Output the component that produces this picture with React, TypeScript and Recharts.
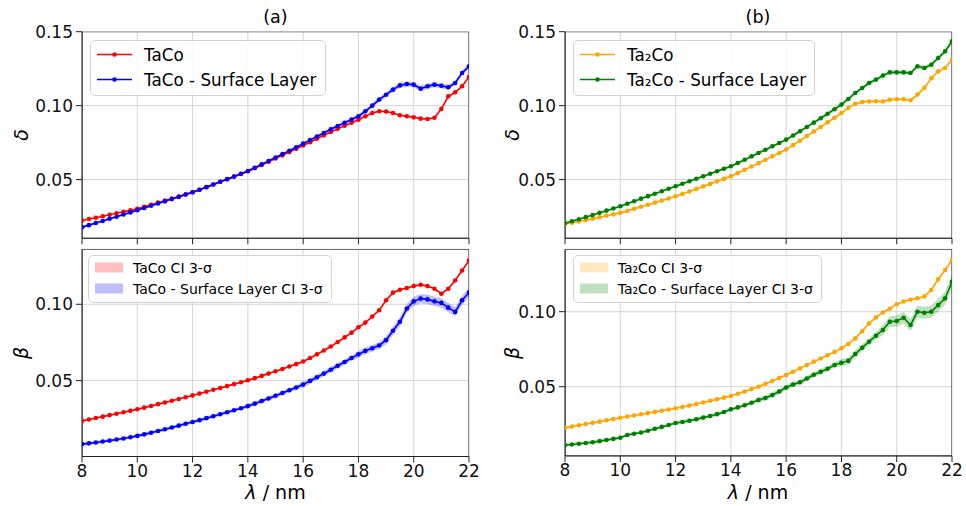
import React from "react";
import {
  ComposedChart,
  Line,
  Area,
  XAxis,
  YAxis,
  CartesianGrid,
  ReferenceArea,
  Legend,
} from "recharts";

// wavelength grid (nm)
const wavelength = [
  8, 8.25, 8.5, 8.75, 9, 9.25, 9.5, 9.75, 10, 10.25, 10.5, 10.75, 11, 11.25, 11.5, 11.75,
  12, 12.25, 12.5, 12.75, 13, 13.25, 13.5, 13.75, 14, 14.25, 14.5, 14.75, 15, 15.25, 15.5, 15.75,
  16, 16.25, 16.5, 16.75, 17, 17.25, 17.5, 17.75, 18, 18.25, 18.5, 18.75, 19, 19.25, 19.5, 19.75,
  20, 20.25, 20.5, 20.75, 21, 21.25, 21.5, 21.75, 22,
];
const xTicks = [8, 10, 12, 14, 16, 18, 20, 22];
const deltaTicks = [0.05, 0.1, 0.15];
const betaTicks = [0.05, 0.1];

// (a) TaCo
const deltaTaCo = [
  0.0223, 0.0233, 0.0242, 0.0252, 0.0262, 0.0272, 0.0282, 0.0292,
  0.0302, 0.0316, 0.033, 0.0344, 0.0358, 0.0372, 0.0386, 0.04,
  0.0414, 0.0431, 0.0449, 0.0467, 0.0485, 0.0502, 0.052, 0.0538,
  0.0556, 0.0577, 0.0599, 0.0621, 0.0643, 0.0664, 0.0686, 0.0708,
  0.073, 0.0753, 0.0776, 0.0799, 0.0822, 0.0843, 0.0864, 0.0885,
  0.0905, 0.0928, 0.095, 0.0962, 0.096, 0.095, 0.0935, 0.0928,
  0.0921, 0.0912, 0.091, 0.0918, 0.0978, 0.1063, 0.109, 0.1131,
  0.1194,
];
const deltaTaCoSurf = [
  0.0178, 0.0192, 0.0206, 0.022, 0.0235, 0.0249, 0.0264, 0.0278,
  0.0293, 0.0308, 0.0323, 0.0338, 0.0353, 0.0368, 0.0383, 0.0399,
  0.0414, 0.0431, 0.0449, 0.0467, 0.0485, 0.0503, 0.0521, 0.0539,
  0.0558, 0.058, 0.0603, 0.0626, 0.0649, 0.0672, 0.0695, 0.0719,
  0.0743, 0.0767, 0.0791, 0.0815, 0.084, 0.0862, 0.0884, 0.0906,
  0.0928, 0.0962, 0.1, 0.1041, 0.1074, 0.1108, 0.1137, 0.1146,
  0.1142, 0.1115, 0.1131, 0.1142, 0.1135, 0.1124, 0.1153, 0.1221,
  0.1266,
];
const betaTaCo = [
  0.0236, 0.0245, 0.0255, 0.0264, 0.0274, 0.0283, 0.0293, 0.0302,
  0.0312, 0.0323, 0.0334, 0.0346, 0.0357, 0.0368, 0.038, 0.0391,
  0.0403, 0.0415, 0.0427, 0.044, 0.0452, 0.0464, 0.0477, 0.0489,
  0.0502, 0.0516, 0.0531, 0.0546, 0.0561, 0.0576, 0.0592, 0.0608,
  0.0625, 0.0648, 0.0672, 0.0697, 0.0723, 0.0753, 0.0783, 0.0814,
  0.0849, 0.088, 0.092, 0.0961, 0.1026, 0.1076, 0.1095, 0.1106,
  0.1119, 0.1128, 0.1119, 0.1102, 0.1069, 0.1102, 0.1156, 0.1221,
  0.1286,
];
const betaTaCoSurf = [
  0.0084, 0.0089, 0.0095, 0.0101, 0.0107, 0.0114, 0.0121, 0.0129,
  0.0138, 0.0148, 0.0159, 0.017, 0.0181, 0.0193, 0.0205, 0.0217,
  0.0229, 0.0241, 0.0254, 0.0267, 0.028, 0.0293, 0.0306, 0.0319,
  0.0333, 0.0349, 0.0366, 0.0383, 0.0401, 0.0419, 0.0437, 0.0455,
  0.0474, 0.0498, 0.0522, 0.0546, 0.0571, 0.0597, 0.0622, 0.0648,
  0.0672, 0.0695, 0.0712, 0.073, 0.0765, 0.0827, 0.0885, 0.0972,
  0.1019, 0.1037, 0.1032, 0.1019, 0.1009, 0.0978, 0.095, 0.1026,
  0.1076,
];

// (b) Ta2Co
const deltaTa2Co = [
  0.02, 0.0208, 0.0217, 0.0226, 0.0236, 0.0245, 0.0255, 0.0265,
  0.0275, 0.0288, 0.0302, 0.0316, 0.033, 0.0344, 0.0358, 0.0372,
  0.0387, 0.0403, 0.042, 0.0437, 0.0454, 0.0471, 0.0488, 0.0505,
  0.0522, 0.0544, 0.0566, 0.0588, 0.0611, 0.0634, 0.0657, 0.068,
  0.0703, 0.0733, 0.0763, 0.0794, 0.0825, 0.0856, 0.0887, 0.0918,
  0.095, 0.0985, 0.1012, 0.1025, 0.1028, 0.103, 0.1028, 0.104,
  0.1043, 0.1043, 0.1036, 0.1075, 0.112, 0.1185, 0.1232, 0.1255,
  0.1311,
];
const deltaTa2CoSurf = [
  0.0205, 0.0218, 0.0232, 0.0246, 0.026, 0.0275, 0.029, 0.0305,
  0.032, 0.0337, 0.0354, 0.0371, 0.0388, 0.0404, 0.0421, 0.0438,
  0.0455, 0.0472, 0.0489, 0.0506, 0.0523, 0.0539, 0.0556, 0.0573,
  0.059, 0.0612, 0.0634, 0.0657, 0.068, 0.0702, 0.0725, 0.0747,
  0.077, 0.0798, 0.0827, 0.0856, 0.0885, 0.0915, 0.0945, 0.0976,
  0.1007, 0.1045, 0.1086, 0.1119, 0.1153, 0.1176, 0.1203, 0.1225,
  0.1225, 0.1225, 0.1221, 0.1266, 0.1255, 0.1277, 0.1322, 0.1367,
  0.1435,
];
const betaTa2Co = [
  0.0227, 0.0235, 0.0243, 0.0251, 0.0259, 0.0267, 0.0276, 0.0284,
  0.0293, 0.0301, 0.0308, 0.0316, 0.0324, 0.0332, 0.034, 0.0348,
  0.0356, 0.0365, 0.0375, 0.0385, 0.0395, 0.0406, 0.0416, 0.0427,
  0.0438, 0.0453, 0.0468, 0.0484, 0.05, 0.0519, 0.0538, 0.0558,
  0.0578, 0.06, 0.0622, 0.0644, 0.0667, 0.0688, 0.071, 0.0732,
  0.0756, 0.0785, 0.0822, 0.087, 0.0922, 0.0962, 0.0995, 0.102,
  0.105, 0.1068, 0.108, 0.109, 0.1102, 0.1145, 0.1216, 0.1278,
  0.1345,
];
const betaTa2CoSurf = [
  0.0111, 0.0115, 0.012, 0.0125, 0.013, 0.0137, 0.0145, 0.0152,
  0.016, 0.0178, 0.0186, 0.0195, 0.0206, 0.0219, 0.0232, 0.0245,
  0.0258, 0.0265, 0.0273, 0.0283, 0.0294, 0.0305, 0.0317, 0.0331,
  0.0349, 0.0362, 0.0376, 0.0393, 0.0411, 0.0425, 0.0445, 0.0468,
  0.0495, 0.0515, 0.053, 0.0555, 0.058, 0.06, 0.062, 0.0645,
  0.066, 0.0672, 0.0718, 0.076, 0.08, 0.084, 0.0878, 0.0933,
  0.0938, 0.096, 0.0911, 0.1, 0.0993, 0.1, 0.1044, 0.1089,
  0.12,
];

// 3-sigma half widths, in units of 1e-3
const ciDeltaTaCo = [
  0.3, 0.3, 0.3, 0.3, 0.3, 0.3, 0.3, 0.3, 0.3, 0.3, 0.3, 0.3, 0.3, 0.3, 0.3, 0.3,
  0.3, 0.3, 0.3, 0.3, 0.3, 0.3, 0.3, 0.3, 0.4, 0.4, 0.4, 0.4, 0.4, 0.4, 0.4, 0.4,
  0.4, 0.4, 0.4, 0.4, 0.5, 0.5, 0.5, 0.5, 0.5, 0.5, 0.6, 0.6, 0.6, 0.6, 0.6, 0.6,
  0.6, 0.6, 0.6, 0.6, 0.7, 0.7, 0.7, 0.7, 0.7,
];
const ciDeltaTaCoSurf = [
  0.8, 0.8, 0.8, 0.8, 0.8, 0.8, 0.8, 0.8, 0.8, 0.8, 0.8, 0.8, 0.8, 0.8, 0.8, 0.8,
  0.9, 0.9, 0.9, 0.9, 0.9, 0.9, 0.9, 0.9, 1.0, 1.0, 1.0, 1.0, 1.0, 1.0, 1.0, 1.0,
  1.1, 1.1, 1.1, 1.1, 1.2, 1.2, 1.2, 1.2, 1.3, 1.4, 1.5, 1.6, 1.7, 1.8, 1.8, 1.8,
  1.8, 1.8, 1.8, 1.7, 1.7, 1.7, 1.6, 1.6, 1.6,
];
const ciBetaTaCo = [
  0.4, 0.4, 0.4, 0.4, 0.4, 0.4, 0.4, 0.4, 0.4, 0.4, 0.4, 0.4, 0.4, 0.4, 0.4, 0.4,
  0.4, 0.4, 0.4, 0.4, 0.4, 0.4, 0.4, 0.4, 0.5, 0.5, 0.5, 0.5, 0.5, 0.5, 0.5, 0.5,
  0.5, 0.5, 0.5, 0.5, 0.5, 0.5, 0.5, 0.5, 0.6, 0.6, 0.6, 0.6, 0.6, 0.6, 0.6, 0.6,
  0.6, 0.6, 0.6, 0.6, 0.6, 0.6, 0.6, 0.6, 0.6,
];
const ciBetaTaCoSurf = [
  1.0, 1.0, 1.0, 1.0, 1.0, 1.0, 1.0, 1.0, 1.2, 1.2, 1.2, 1.2, 1.2, 1.2, 1.2, 1.2,
  1.2, 1.2, 1.2, 1.2, 1.2, 1.2, 1.2, 1.2, 1.5, 1.5, 1.5, 1.5, 1.5, 1.5, 1.5, 1.5,
  1.8, 1.8, 1.8, 1.8, 1.8, 1.8, 1.8, 1.8, 2.2, 2.2, 2.2, 2.2, 2.8, 2.8, 2.8, 2.8,
  3.0, 3.0, 3.0, 3.0, 3.0, 3.0, 3.0, 3.0, 3.0,
];
const ciDeltaTa2Co = [
  0.4, 0.4, 0.4, 0.4, 0.4, 0.4, 0.4, 0.4, 0.4, 0.4, 0.4, 0.4, 0.4, 0.4, 0.4, 0.4,
  0.4, 0.4, 0.4, 0.4, 0.4, 0.4, 0.4, 0.4, 0.5, 0.5, 0.5, 0.5, 0.5, 0.5, 0.5, 0.5,
  0.6, 0.6, 0.6, 0.6, 0.6, 0.6, 0.6, 0.6, 0.7, 0.8, 0.9, 0.9, 0.9, 0.9, 0.9, 0.9,
  0.9, 0.9, 0.9, 0.9, 0.9, 0.8, 0.8, 0.8, 0.8,
];
const ciDeltaTa2CoSurf = [
  0.7, 0.7, 0.7, 0.7, 0.7, 0.7, 0.7, 0.7, 0.7, 0.7, 0.7, 0.7, 0.7, 0.7, 0.7, 0.7,
  0.8, 0.8, 0.8, 0.8, 0.8, 0.8, 0.8, 0.8, 0.9, 0.9, 0.9, 0.9, 0.9, 0.9, 0.9, 0.9,
  1.0, 1.0, 1.0, 1.0, 1.1, 1.1, 1.1, 1.1, 1.2, 1.2, 1.3, 1.3, 1.3, 1.3, 1.4, 1.4,
  1.4, 1.4, 1.4, 1.5, 1.5, 1.5, 1.5, 1.5, 1.5,
];
const ciBetaTa2Co = [
  0.4, 0.4, 0.4, 0.4, 0.4, 0.4, 0.4, 0.4, 0.4, 0.4, 0.4, 0.4, 0.4, 0.4, 0.4, 0.4,
  0.4, 0.4, 0.4, 0.4, 0.4, 0.4, 0.4, 0.4, 0.5, 0.5, 0.5, 0.5, 0.5, 0.5, 0.5, 0.5,
  0.5, 0.5, 0.5, 0.5, 0.5, 0.5, 0.5, 0.5, 0.6, 0.6, 0.6, 0.6, 0.6, 0.6, 0.6, 0.6,
  0.6, 0.6, 0.6, 0.6, 0.6, 0.6, 0.6, 0.6, 0.6,
];
const ciBetaTa2CoSurf = [
  1.0, 1.0, 1.0, 1.0, 1.0, 1.0, 1.0, 1.0, 1.0, 1.0, 1.0, 1.0, 1.0, 1.0, 1.0, 1.0,
  1.3, 1.3, 1.3, 1.3, 1.3, 1.3, 1.3, 1.3, 1.3, 1.3, 1.3, 1.3, 1.8, 1.8, 1.8, 1.8,
  1.8, 1.8, 1.8, 1.8, 1.8, 1.8, 1.8, 1.8, 2.5, 2.5, 2.5, 2.5, 2.5, 2.5, 3.5, 3.5,
  3.8, 3.8, 4.0, 4.0, 4.0, 4.2, 4.2, 4.4, 4.5,
];

const RED = "#ff0000";
const BLUE = "#0000ff";
const ORANGE = "#ffa500";
const GREEN = "#008000";
const FONT = '"DejaVu Sans", sans-serif';

const buildRows = (base: number[], baseCi: number[], surf: number[], surfCi: number[]) =>
  wavelength.map((x, i) => ({
    x,
    base: base[i],
    surf: surf[i],
    baseBand: [base[i] - baseCi[i] / 1000, base[i] + baseCi[i] / 1000],
    surfBand: [surf[i] - surfCi[i] / 1000, surf[i] + surfCi[i] / 1000],
  }));

type Item = { name: string; color: string };

const LegendBox = ({ items, kind }: { items: Item[]; kind: "line" | "band" }) => {
  const rowH = kind === "line" ? 25 : 21;
  return (
    <div
      style={{
        background: "rgba(255,255,255,0.8)",
        border: "1px solid #d2d2d2",
        borderRadius: 5,
        padding: "1px 8px 3px 6px",
        fontFamily: FONT,
        fontSize: kind === "line" ? 16.8 : 14,
        color: "#000",
        whiteSpace: "nowrap",
      }}
    >
      {items.map((it) => (
        <div key={it.name} style={{ display: "flex", alignItems: "center", height: rowH }}>
          {kind === "line" ? (
            <svg width={35} height={rowH} style={{ marginRight: 12 }}>
              <line x1={0} x2={35} y1={rowH / 2} y2={rowH / 2} stroke={it.color} strokeWidth={1.5} />
              <circle cx={17.5} cy={rowH / 2} r={2.3} fill={it.color} />
            </svg>
          ) : (
            <svg width={28} height={rowH} style={{ marginRight: 10 }}>
              <rect x={0} y={rowH / 2 - 5} width={28} height={10} fill={it.color} fillOpacity={0.25} />
            </svg>
          )}
          <span>{it.name}</span>
        </div>
      ))}
    </div>
  );
};

interface PanelProps {
  left: number;
  top: number;
  height: number;
  marginTop: number;
  xHeight: number;
  showXLabels: boolean;
  data: ReturnType<typeof buildRows>;
  yDomain: [number, number];
  yTicks: number[];
  baseColor: string;
  surfColor: string;
  items: Item[];
  kind: "line" | "band";
  legendLeft: number;
  legendTop: number;
}

const Panel = (p: PanelProps) => (
  <div style={{ position: "absolute", left: p.left, top: p.top }}>
    <ComposedChart
      width={480}
      height={p.height}
      data={p.data}
      margin={{ top: p.marginTop, right: 11, bottom: 0, left: 0 }}
    >
      <CartesianGrid stroke="#d6d6d6" strokeWidth={1} />
      <XAxis
        type="number"
        dataKey="x"
        domain={[8, 22]}
        ticks={xTicks}
        interval={0}
        allowDataOverflow
        height={p.xHeight}
        tickSize={6}
        tickMargin={2}
        axisLine={{ stroke: "#222" }}
        tickLine={{ stroke: "#222" }}
        tick={{ fill: "#111", fontSize: 17, fontFamily: FONT }}
        tickFormatter={(v: number) => (p.showXLabels ? String(v) : "")}
      />
      <YAxis
        type="number"
        domain={p.yDomain}
        ticks={p.yTicks}
        interval={0}
        allowDataOverflow
        width={82}
        tickSize={6}
        tickMargin={3}
        axisLine={{ stroke: "#222" }}
        tickLine={{ stroke: "#222" }}
        tick={{ fill: "#111", fontSize: 17, fontFamily: FONT }}
        tickFormatter={(v: number) => v.toFixed(2)}
      />
      <Area
        type="linear"
        dataKey="baseBand"
        stroke="none"
        fill={p.baseColor}
        fillOpacity={0.25}
        activeDot={false}
        isAnimationActive={false}
      />
      <Area
        type="linear"
        dataKey="surfBand"
        stroke="none"
        fill={p.surfColor}
        fillOpacity={0.25}
        activeDot={false}
        isAnimationActive={false}
      />
      <Line
        type="linear"
        dataKey="base"
        stroke={p.baseColor}
        strokeWidth={1.6}
        dot={{ r: 2.3, fill: p.baseColor, stroke: "none" }}
        activeDot={false}
        isAnimationActive={false}
      />
      <Line
        type="linear"
        dataKey="surf"
        stroke={p.surfColor}
        strokeWidth={1.6}
        dot={{ r: 2.3, fill: p.surfColor, stroke: "none" }}
        activeDot={false}
        isAnimationActive={false}
      />
      <ReferenceArea
        x1={8}
        x2={22}
        y1={p.yDomain[0]}
        y2={p.yDomain[1]}
        fill="none"
        stroke="#222"
        strokeWidth={1}
        ifOverflow="hidden"
      />
      <Legend
        layout="vertical"
        align="center"
        verticalAlign="middle"
        wrapperStyle={{ left: p.legendLeft, top: p.legendTop, width: "auto", height: "auto" }}
        content={() => <LegendBox items={p.items} kind={p.kind} />}
      />
    </ComposedChart>
  </div>
);

const deltaDomain: [number, number] = [0.0103, 0.15];

export default function App() {
  const aDelta = buildRows(deltaTaCo, ciDeltaTaCo, deltaTaCoSurf, ciDeltaTaCoSurf);
  const aBeta = buildRows(betaTaCo, ciBetaTaCo, betaTaCoSurf, ciBetaTaCoSurf);
  const bDelta = buildRows(deltaTa2Co, ciDeltaTa2Co, deltaTa2CoSurf, ciDeltaTa2CoSurf);
  const bBeta = buildRows(betaTa2Co, ciBetaTa2Co, betaTa2CoSurf, ciBetaTa2CoSurf);

  const labelStyle = { fontFamily: FONT, fill: "#000" };

  return (
    <div
      style={{
        position: "absolute",
        left: 0,
        top: 0,
        width: 966,
        height: 506,
        background: "#fff",
        fontFamily: FONT,
      }}
    >
      <Panel
        left={0}
        top={0}
        height={250}
        marginTop={31.7}
        xHeight={11.7}
        showXLabels={false}
        data={aDelta}
        yDomain={deltaDomain}
        yTicks={deltaTicks}
        baseColor={RED}
        surfColor={BLUE}
        items={[
          { name: "TaCo", color: RED },
          { name: "TaCo - Surface Layer", color: BLUE },
        ]}
        kind="line"
        legendLeft={90}
        legendTop={40}
      />
      <Panel
        left={0}
        top={245}
        height={261}
        marginTop={4.3}
        xHeight={49.5}
        showXLabels
        data={aBeta}
        yDomain={[0.0003, 0.136]}
        yTicks={betaTicks}
        baseColor={RED}
        surfColor={BLUE}
        items={[
          { name: "TaCo CI 3-σ", color: RED },
          { name: "TaCo - Surface Layer CI 3-σ", color: BLUE },
        ]}
        kind="band"
        legendLeft={88}
        legendTop={10}
      />
      <Panel
        left={482.7}
        top={0}
        height={250}
        marginTop={31.7}
        xHeight={11.7}
        showXLabels={false}
        data={bDelta}
        yDomain={deltaDomain}
        yTicks={deltaTicks}
        baseColor={ORANGE}
        surfColor={GREEN}
        items={[
          { name: "Ta₂Co", color: ORANGE },
          { name: "Ta₂Co - Surface Layer", color: GREEN },
        ]}
        kind="line"
        legendLeft={90.3}
        legendTop={40}
      />
      <Panel
        left={482.7}
        top={245}
        height={261}
        marginTop={4.3}
        xHeight={50}
        showXLabels
        data={bBeta}
        yDomain={[0.0038, 0.1416]}
        yTicks={betaTicks}
        baseColor={ORANGE}
        surfColor={GREEN}
        items={[
          { name: "Ta₂Co CI 3-σ", color: ORANGE },
          { name: "Ta₂Co - Surface Layer CI 3-σ", color: GREEN },
        ]}
        kind="band"
        legendLeft={90}
        legendTop={10}
      />
      <svg
        width={966}
        height={506}
        style={{ position: "absolute", left: 0, top: 0, pointerEvents: "none" }}
      >
        <text x={275.5} y={23} textAnchor="middle" fontSize={17.5} {...labelStyle}>(a)</text>
        <text x={758} y={23} textAnchor="middle" fontSize={17.5} {...labelStyle}>(b)</text>
        {[
          { x: 21, y: 135, t: "δ" },
          { x: 21, y: 353, t: "β" },
          { x: 512, y: 135, t: "δ" },
          { x: 512, y: 353, t: "β" },
        ].map((l) => (
          <text
            key={`${l.x}-${l.y}`}
            x={l.x}
            y={l.y}
            textAnchor="middle"
            dominantBaseline="central"
            fontSize={19}
            fontStyle="italic"
            transform={`rotate(-90 ${l.x} ${l.y})`}
            {...labelStyle}
          >
            {l.t}
          </text>
        ))}
        {[275.5, 758].map((cx) => (
          <text key={cx} x={cx} y={499} textAnchor="middle" fontSize={19} {...labelStyle}>
            <tspan fontStyle="italic">λ</tspan> / nm
          </text>
        ))}
      </svg>
    </div>
  );
}
